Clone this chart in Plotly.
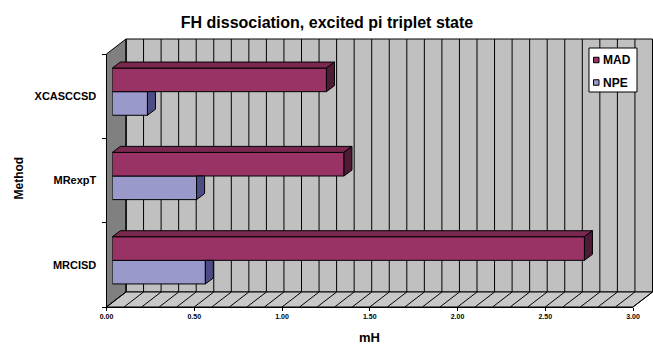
import plotly.graph_objects as go

# ---- data ----
methods = ["MRCISD", "MRexpT", "XCASCCSD"]
mad = [2.69, 1.32, 1.22]
npe = [0.53, 0.48, 0.20]
x_tick_vals = [0, 0.5, 1.0, 1.5, 2.0, 2.5, 3.0]
x_tick_text = ["0.00", "0.50", "1.00", "1.50", "2.00", "2.50", "3.00"]
grid_vals = [i / 10 for i in range(31)]
series_names = ["MAD", "NPE"]

# ---- geometry (pixels) ----
W, H = 653, 344
FX0, FX1, FYT, FYB = 106.5, 633.0, 54.0, 307.0   # front plane
DX, DY = 19.5, 15.0                               # full depth offset (right, up)
BAR_D0 = 0.3                                      # bar front depth fraction
BAR_DPX, BAR_DPY = 8.0, 6.0                       # bar depth in pixels
XMAX = 3.0
YR = [-0.5, len(methods) - 0.5]
BW = 0.28

PXU = (FX1 - FX0) / XMAX
PYU = (FYB - FYT) / (YR[1] - YR[0])
dxu = BAR_DPX / PXU
dyu = BAR_DPY / PYU

FONT = "Liberation Sans, Arial, sans-serif"
MAD_C, MAD_TOP, MAD_SIDE = "#993366", "#7a2850", "#4f1a35"
NPE_C, NPE_SIDE = "#9999cc", "#4d4d85"


def px(xp):
    return xp / W


def py(yp):
    return 1 - yp / H


def dom_x(s):
    return [px(FX0 + s), px(FX1 + s)]


def dom_y(s):
    return [py(FYB - s), py(FYT - s)]


pos = list(range(len(methods)))

fig = go.Figure()

# invisible trace so the front (labelled) axes are drawn
fig.add_trace(go.Scatter(x=[0], y=[pos[0]], mode="markers", marker=dict(opacity=0),
                         xaxis="x", yaxis="y", showlegend=False, hoverinfo="skip"))

# NPE side faces (clipped under MAD bar)
sx, sy = [], []
for p, v in zip(pos, npe):
    sx += [v, v, v + dxu, v + dxu, v, None]
    sy += [p - BW, p, p, p - BW + dyu, p - BW, None]
fig.add_trace(go.Scatter(x=sx, y=sy, fill="toself", fillcolor=NPE_SIDE, mode="lines",
                         line=dict(color="black", width=1), xaxis="x2", yaxis="y2",
                         showlegend=False, hoverinfo="skip"))

fig.add_trace(go.Bar(y=pos, x=npe, orientation="h", width=BW, offset=-BW, name="NPE",
                     marker=dict(color=NPE_C, line=dict(color="black", width=1)),
                     xaxis="x2", yaxis="y2", showlegend=False))
fig.add_trace(go.Bar(y=pos, x=mad, orientation="h", width=BW, offset=0, name="MAD",
                     marker=dict(color=MAD_C, line=dict(color="black", width=1)),
                     xaxis="x2", yaxis="y2", showlegend=False))

# MAD top faces
tx, ty = [], []
for p, v in zip(pos, mad):
    tx += [0, v, v + dxu, dxu, 0, None]
    ty += [p + BW, p + BW, p + BW + dyu, p + BW + dyu, p + BW, None]
fig.add_trace(go.Scatter(x=tx, y=ty, fill="toself", fillcolor=MAD_TOP, mode="lines",
                         line=dict(color="black", width=1), xaxis="x2", yaxis="y2",
                         showlegend=False, hoverinfo="skip"))
# MAD side faces
rx, ry = [], []
for p, v in zip(pos, mad):
    rx += [v, v + dxu, v + dxu, v, v, None]
    ry += [p, p + dyu, p + BW + dyu, p + BW, p, None]
fig.add_trace(go.Scatter(x=rx, y=ry, fill="toself", fillcolor=MAD_SIDE, mode="lines",
                         line=dict(color="black", width=1), xaxis="x2", yaxis="y2",
                         showlegend=False, hoverinfo="skip"))

# ---- walls (decoration) ----
shapes = []


def path(pts):
    return "M " + " L ".join(f"{px(a):.5f},{py(b):.5f}" for a, b in pts) + " Z"


# back wall
shapes.append(dict(type="rect", xref="paper", yref="paper", layer="below",
                   x0=px(FX0 + DX), x1=min(px(FX1 + DX), 0.9995),
                   y0=py(FYB - DY), y1=py(FYT - DY),
                   fillcolor="#c0c0c0", line=dict(color="black", width=1)))
# side wall
shapes.append(dict(type="path", xref="paper", yref="paper", layer="below",
                   path=path([(FX0, FYB), (FX0, FYT), (FX0 + DX, FYT - DY), (FX0 + DX, FYB - DY)]),
                   fillcolor="#808080", line=dict(color="black", width=1)))
# floor
shapes.append(dict(type="path", xref="paper", yref="paper", layer="below",
                   path=path([(FX0, FYB), (FX1, FYB), (FX1 + DX, FYB - DY), (FX0 + DX, FYB - DY)]),
                   fillcolor="#c8c8c8", line=dict(color="black", width=1)))
# back wall gridlines + floor hatches
for g in grid_vals:
    xb = FX0 + DX + g * PXU
    if xb <= W - 0.5:
        shapes.append(dict(type="line", xref="paper", yref="paper", layer="below",
                           x0=px(xb), x1=px(xb), y0=py(FYB - DY), y1=py(FYT - DY),
                           line=dict(color="black", width=1)))
    xf = FX0 + g * PXU
    xe = min(xf + DX, W - 0.5)
    shapes.append(dict(type="line", xref="paper", yref="paper", layer="below",
                       x0=px(xf), x1=px(xe), y0=py(FYB),
                       y1=py(FYB - DY * (xe - xf) / DX),
                       line=dict(color="black", width=1)))

# ---- custom legend ----
LX0, LX1, LY0, LY1 = 589, 637, 48, 92
shapes.append(dict(type="rect", xref="paper", yref="paper", layer="above",
                   x0=px(LX0), x1=px(LX1), y0=py(LY1), y1=py(LY0),
                   fillcolor="white", line=dict(color="black", width=1)))
annotations = []
for i, (nm, col) in enumerate(zip(series_names, [MAD_C, NPE_C])):
    cy = 60 + i * 22.5
    shapes.append(dict(type="rect", xref="paper", yref="paper", layer="above",
                       x0=px(593.5), x1=px(599), y0=py(cy + 2.75), y1=py(cy - 2.75),
                       fillcolor=col, line=dict(color="black", width=1)))
    annotations.append(dict(text=nm, xref="paper", yref="paper", x=px(600.5), y=py(cy),
                            xanchor="left", yanchor="middle", showarrow=False,
                            font=dict(family=FONT, size=12, color="black", weight="bold")))

# axis titles
annotations.append(dict(text="mH", xref="paper", yref="paper", x=px(369), y=py(337),
                        xanchor="center", yanchor="middle", showarrow=False,
                        font=dict(family=FONT, size=13, color="black", weight="bold")))
annotations.append(dict(text="Method", xref="paper", yref="paper", x=px(18.5), y=py(178),
                        xanchor="center", yanchor="middle", showarrow=False, textangle=-90,
                        font=dict(family=FONT, size=12, color="black", weight="bold")))

fig.update_layout(
    width=W, height=H,
    margin=dict(l=0, r=0, t=0, b=0),
    paper_bgcolor="white", plot_bgcolor="rgba(0,0,0,0)",
    barmode="overlay",
    showlegend=False,
    title=dict(text="FH dissociation, excited pi triplet state", x=px(327), xanchor="center",
               y=py(22.5), yanchor="middle",
               font=dict(family=FONT, size=16, color="black", weight="bold")),
    xaxis=dict(domain=dom_x(0), range=[0, XMAX], tickvals=x_tick_vals, ticktext=x_tick_text,
               ticks="outside", ticklen=3, tickcolor="black", showline=True, linecolor="black",
               linewidth=1, showgrid=False, zeroline=False, anchor="y", automargin=False,
               tickfont=dict(family=FONT, size=7, color="black", weight="bold"), fixedrange=True),
    yaxis=dict(domain=dom_y(0), range=YR, tickvals=pos, ticktext=methods,
               ticks="outside", ticklen=7, tickcolor="rgba(0,0,0,0)", showline=True,
               linecolor="black", linewidth=1, showgrid=False, zeroline=False, anchor="x",
               automargin=False,
               minor=dict(tickvals=[YR[0] + k for k in range(len(methods) + 1)], ticks="outside",
                          ticklen=4, tickcolor="black"),
               tickfont=dict(family=FONT, size=11, color="black", weight="bold"), fixedrange=True),
    xaxis2=dict(domain=dom_x(DX * BAR_D0), range=[0, XMAX], visible=False, anchor="y2",
                fixedrange=True),
    yaxis2=dict(domain=dom_y(DY * BAR_D0), range=YR, visible=False, anchor="x2",
                fixedrange=True),
    shapes=shapes,
    annotations=annotations,
)

fig.write_html("out.html")
